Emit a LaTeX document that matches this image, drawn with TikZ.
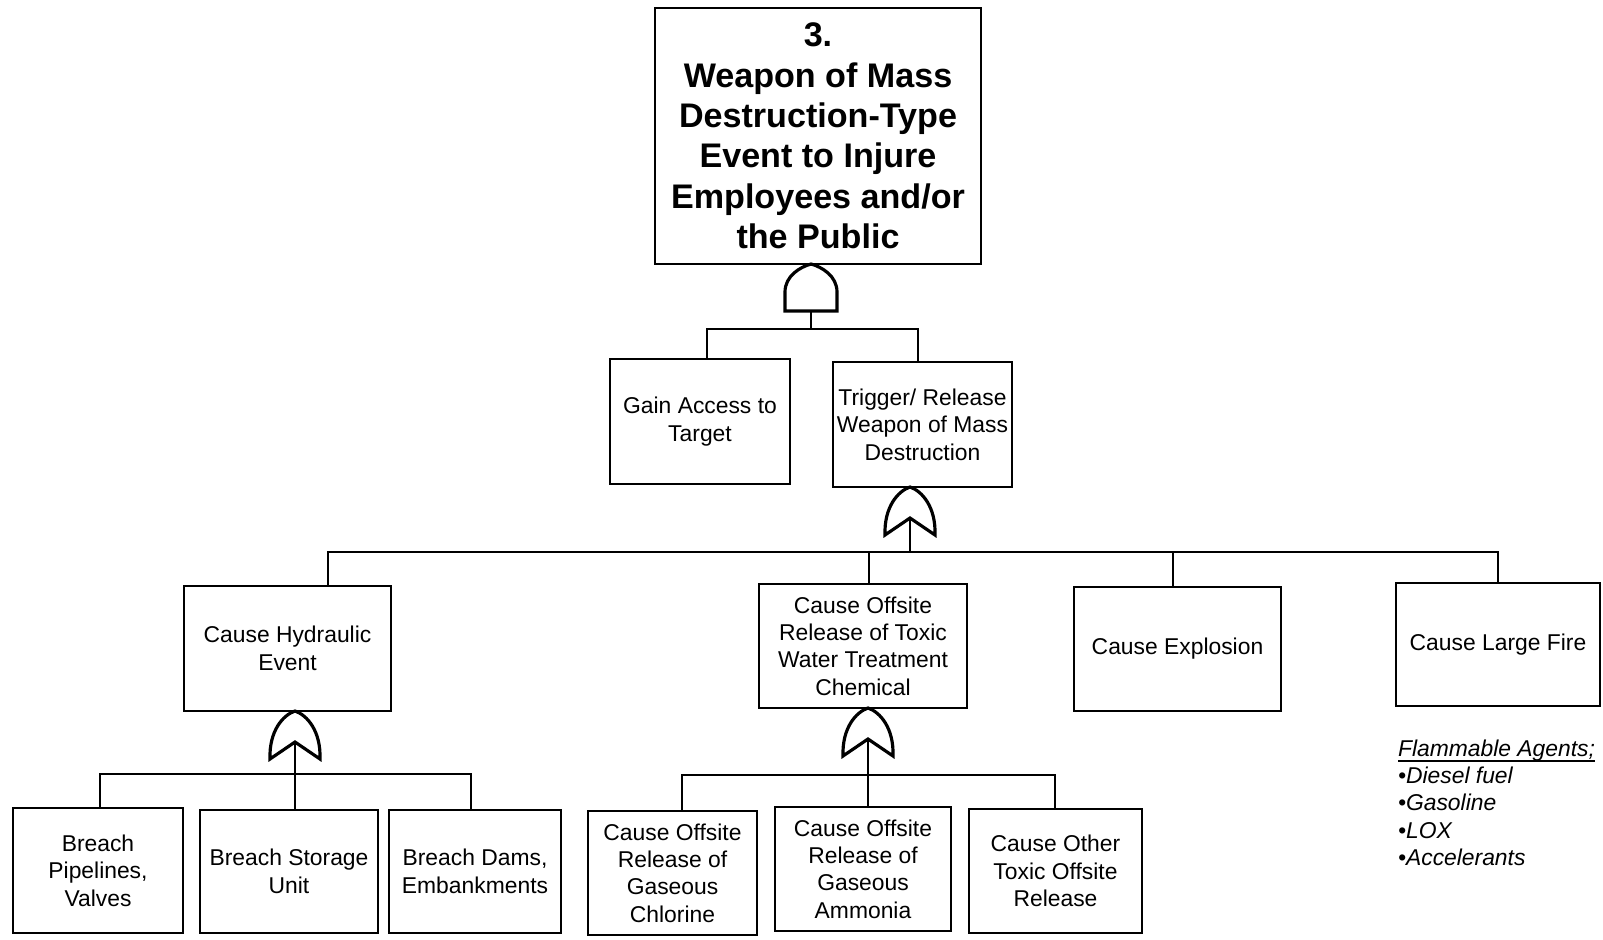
\documentclass[tikz,border=0pt]{standalone}
\usepackage{fontspec}
\setmainfont{Liberation Sans}

\tikzset{
  evt/.style={draw, line width=0.6pt, inner sep=0pt, align=center,
    font=\fontsize{6.5}{7.8}\selectfont},
  andgate/.pic={
    \draw[line width=0.9pt] (-26,47) -- (-26,28) .. controls (-26,12) and (-11,3) .. (0,0)
      .. controls (11,3) and (26,12) .. (26,28) -- (26,47) -- cycle;
    \coordinate (-out) at (0,47);
  },
  orgate/.pic={
    \draw[line width=0.9pt] (-25,48) .. controls (-26,20) and (-12,4) .. (0,0)
      .. controls (12,4) and (26,20) .. (25,48) -- (0,31) -- cycle;
    \coordinate (-out) at (0,31);
  },
}

\begin{document}
\begin{tikzpicture}[x=0.01cm, y=-0.01cm, line width=0.6pt]
            \useasboundingbox (0,0) rectangle (1603,939);

            % top event
            \node[evt, minimum width=3.26cm, minimum height=2.56cm,
                  font=\fontsize{9.7}{11.5}\selectfont\bfseries] (top) at (818,136)
                {3.\\Weapon of Mass\\Destruction-Type\\Event to Injure\\Employees and/or\\the Public};

            % second level
            \node[evt, minimum width=1.80cm, minimum height=1.25cm] (gain) at (700,421.5) {Gain Access to\\Target};
            \node[evt, minimum width=1.79cm, minimum height=1.25cm] (trig) at (922.5,424.5) {Trigger/ Release\\Weapon of Mass\\Destruction};

            % third level
            \node[evt, minimum width=2.07cm, minimum height=1.25cm] (hyd) at (287.5,648.5) {Cause Hydraulic\\Event};
            \node[evt, minimum width=2.08cm, minimum height=1.24cm] (tox) at (863,646) {Cause Offsite\\Release of Toxic\\Water Treatment\\Chemical};
            \node[evt, minimum width=2.07cm, minimum height=1.24cm] (expl) at (1177.5,649) {Cause Explosion};
            \node[evt, minimum width=2.04cm, minimum height=1.23cm] (fire) at (1498,644.5) {Cause Large Fire};

            % bottom level
            \node[evt, minimum width=1.70cm, minimum height=1.25cm] (pipe) at (98,870.5) {Breach\\Pipelines,\\Valves};
            \node[evt, minimum width=1.78cm, minimum height=1.23cm] (stor) at (289,871.5) {Breach Storage\\Unit};
            \node[evt, minimum width=1.72cm, minimum height=1.23cm] (dams) at (475,871.5) {Breach Dams,\\Embankments};
            \node[evt, minimum width=1.69cm, minimum height=1.24cm] (chl) at (672.5,873) {Cause Offsite\\Release of\\Gaseous\\Chlorine};
            \node[evt, minimum width=1.76cm, minimum height=1.24cm] (amm) at (863,869) {Cause Offsite\\Release of\\Gaseous\\Ammonia};
            \node[evt, minimum width=1.73cm, minimum height=1.24cm] (oth) at (1055.5,871) {Cause Other\\Toxic Offsite\\Release};

            \node[anchor=north west, align=left, inner sep=0pt,
                  font=\fontsize{6.5}{7.8}\selectfont\itshape] (agents) at (1397,755)
                {\underline{\smash{Flammable Agents;}}\\•Diesel fuel\\•Gasoline\\•LOX\\•Accelerants};

            % gates
            \pic (g1) at (811,264) {andgate};
            \pic (g2) at (910,487) {orgate};
            \pic (g3) at (295,711) {orgate};
            \pic (g4) at (868,708) {orgate};

            % bars and drops
            \coordinate (b1l) at (707,329);
            \coordinate (b1r) at (918,329);
            \draw (g1-out) -- (g1-out |- b1l);
            \draw (gain.north -| b1l) -- (b1l) -- (b1r) -- (trig.north -| b1r);

            \coordinate (b2a) at (328,552);
            \coordinate (b2b) at (869,552);
            \coordinate (b2c) at (1173,552);
            \coordinate (b2d) at (1498,552);
            \draw (g2-out) -- (g2-out |- b2a);
            \draw (hyd.north -| b2a) -- (b2a) -- (b2d) -- (fire.north -| b2d);
            \draw (b2b) -- (tox.north -| b2b);
            \draw (b2c) -- (expl.north -| b2c);

            \coordinate (b3l) at (100,774);
            \coordinate (b3r) at (471,774);
            \draw (g3-out) -- (stor.north -| g3-out);
            \draw (pipe.north -| b3l) -- (b3l) -- (b3r) -- (dams.north -| b3r);

            \coordinate (b4l) at (682,775);
            \coordinate (b4r) at (1055,775);
            \draw (g4-out) -- (amm.north -| g4-out);
            \draw (chl.north -| b4l) -- (b4l) -- (b4r) -- (oth.north -| b4r);
        \end{tikzpicture}
\end{document}
